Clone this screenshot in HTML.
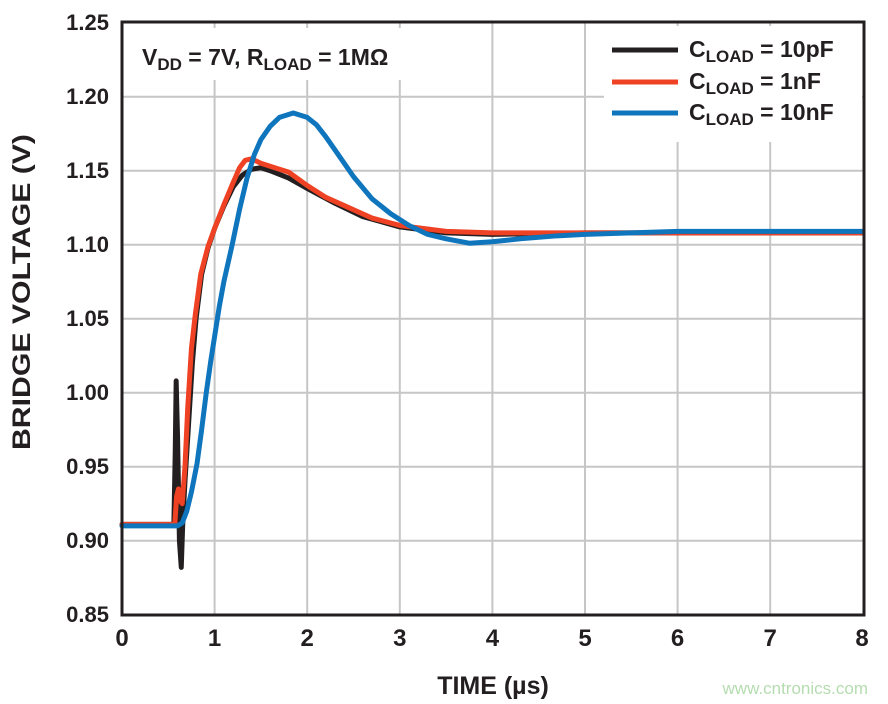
<!DOCTYPE html>
<html><head><meta charset="utf-8"><style>
body{margin:0;background:#fff;}
svg{display:block;font-family:"Liberation Sans",Arial,sans-serif;font-weight:bold;}
</style></head><body>
<svg width="888" height="704" viewBox="0 0 888 704" xmlns="http://www.w3.org/2000/svg">
<rect width="888" height="704" fill="#fff"/>
<g stroke="#c6c6c6" stroke-width="2">
<line x1="214.6" y1="22" x2="214.6" y2="615"/><line x1="307.2" y1="22" x2="307.2" y2="615"/>
<line x1="399.8" y1="22" x2="399.8" y2="615"/><line x1="492.4" y1="22" x2="492.4" y2="615"/>
<line x1="585" y1="22" x2="585" y2="615"/><line x1="677.6" y1="22" x2="677.6" y2="615"/>
<line x1="770.2" y1="22" x2="770.2" y2="615"/>
<line x1="122" y1="96.7" x2="864" y2="96.7"/><line x1="122" y1="170.7" x2="864" y2="170.7"/>
<line x1="122" y1="244.7" x2="864" y2="244.7"/><line x1="122" y1="318.7" x2="864" y2="318.7"/>
<line x1="122" y1="392.7" x2="864" y2="392.7"/><line x1="122" y1="466.7" x2="864" y2="466.7"/>
<line x1="122" y1="540.7" x2="864" y2="540.7"/>
</g>
<rect x="128" y="28" width="305" height="52" fill="#fff"/>
<rect x="604" y="26" width="258" height="116" fill="#fff"/>
<g transform="translate(122,540.7) scale(92.6,-1480)" fill="none" stroke-linejoin="round" stroke-linecap="round">
<polyline vector-effect="non-scaling-stroke" stroke="#231f20" stroke-width="5" points="0,0.011 0.56,0.011 0.575,0.06 0.585,0.108 0.6,0.07 0.62,0 0.64,-0.018 0.655,0.01 0.68,0.04 0.72,0.08 0.76,0.12 0.8,0.15 0.86,0.18 0.93,0.198 1,0.211 1.1,0.226 1.2,0.239 1.3,0.247 1.4,0.251 1.5,0.252 1.6,0.25 1.8,0.245 2,0.238 2.3,0.228 2.6,0.219 3,0.212 3.5,0.208 4,0.207 5,0.208 6,0.208 7,0.208 8,0.208"/>
<polyline vector-effect="non-scaling-stroke" stroke="#ef4123" stroke-width="5" points="0,0.011 0.57,0.011 0.59,0.03 0.61,0.035 0.63,0.027 0.65,0.025 0.68,0.05 0.71,0.09 0.75,0.13 0.79,0.152 0.85,0.18 0.93,0.199 1,0.211 1.1,0.227 1.2,0.242 1.27,0.252 1.33,0.257 1.4,0.258 1.5,0.255 1.65,0.252 1.8,0.249 2,0.24 2.2,0.232 2.45,0.225 2.7,0.218 3,0.213 3.5,0.209 4,0.208 5,0.208 6,0.208 8,0.208"/>
<polyline vector-effect="non-scaling-stroke" stroke="#0f75bc" stroke-width="5" points="0,0.01 0.6,0.01 0.65,0.012 0.7,0.02 0.75,0.033 0.81,0.052 0.86,0.075 0.91,0.1 0.96,0.122 1,0.138 1.05,0.158 1.1,0.175 1.19,0.2 1.27,0.224 1.35,0.245 1.43,0.261 1.5,0.271 1.6,0.28 1.7,0.286 1.85,0.289 2,0.286 2.1,0.281 2.2,0.273 2.3,0.264 2.5,0.246 2.7,0.231 2.9,0.221 3.1,0.213 3.3,0.207 3.5,0.204 3.75,0.201 4,0.202 4.3,0.204 4.7,0.206 5,0.207 5.5,0.208 6,0.209 7,0.209 8,0.209"/>
</g>
<rect x="122" y="22" width="742" height="593" fill="none" stroke="#231f20" stroke-width="3"/>
<g font-size="22" fill="#231f20" text-anchor="end">
<text x="109" y="30">1.25</text><text x="109" y="104">1.20</text><text x="109" y="178">1.15</text>
<text x="109" y="252">1.10</text><text x="109" y="326">1.05</text><text x="109" y="400">1.00</text>
<text x="109" y="474">0.95</text><text x="109" y="548">0.90</text><text x="109" y="622">0.85</text>
</g>
<g font-size="24" fill="#231f20" text-anchor="middle">
<text x="122" y="646">0</text><text x="214.6" y="646">1</text><text x="307.2" y="646">2</text>
<text x="399.8" y="646">3</text><text x="492.4" y="646">4</text><text x="585" y="646">5</text>
<text x="677.6" y="646">6</text><text x="770.2" y="646">7</text><text x="862" y="646">8</text>
</g>
<text x="493" y="694" font-size="25" fill="#231f20" text-anchor="middle">TIME (µs)</text>
<text transform="translate(30,292) rotate(-90)" font-size="25" fill="#231f20" text-anchor="middle" textLength="316" lengthAdjust="spacingAndGlyphs">BRIDGE VOLTAGE (V)</text>
<text x="142" y="65" font-size="23" fill="#231f20">V<tspan font-size="17" dy="5">DD</tspan><tspan dy="-5"> = 7V, R</tspan><tspan font-size="17" dy="5">LOAD</tspan><tspan dy="-5"> = 1MΩ</tspan></text>
<g stroke-width="5">
<line x1="612" y1="50" x2="678" y2="50" stroke="#231f20"/>
<line x1="612" y1="82" x2="678" y2="82" stroke="#ef4123"/>
<line x1="612" y1="113" x2="678" y2="113" stroke="#0f75bc"/>
</g>
<g font-size="23" fill="#231f20">
<text x="689" y="57">C<tspan font-size="17" dy="5">LOAD</tspan><tspan dy="-5"> = 10pF</tspan></text>
<text x="689" y="89">C<tspan font-size="17" dy="5">LOAD</tspan><tspan dy="-5"> = 1nF</tspan></text>
<text x="689" y="120">C<tspan font-size="17" dy="5">LOAD</tspan><tspan dy="-5"> = 10nF</tspan></text>
</g>
<text x="868" y="694" font-size="17" font-weight="normal" fill="#b5dcb0" text-anchor="end">www.cntronics.com</text>
</svg>
</body></html>
